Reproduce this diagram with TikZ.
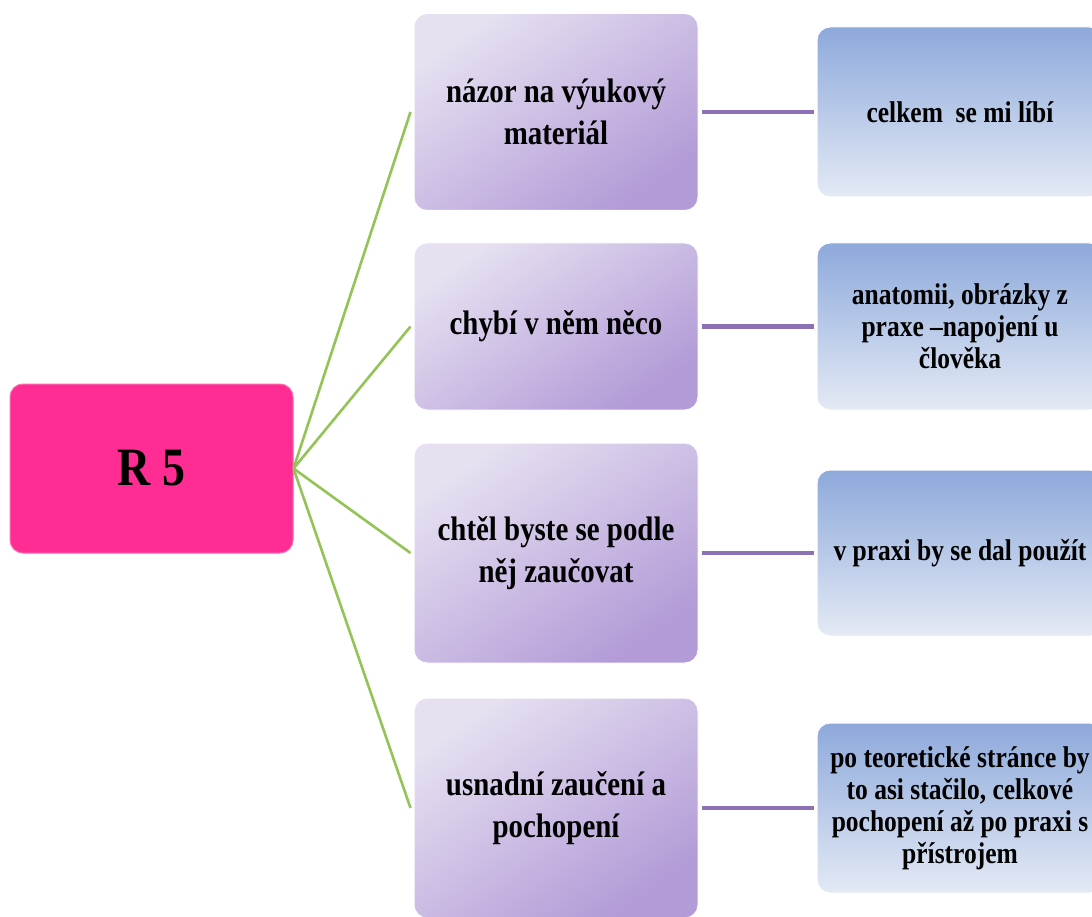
\documentclass[tikz,border=0pt]{standalone}
\usepackage{fontspec}
\setmainfont{Liberation Serif}[FakeStretch=0.85]
\definecolor{pinkbox}{HTML}{FF2D93}
\definecolor{purpleA}{HTML}{E6E0F1}
\definecolor{purpleB}{HTML}{B29BD7}
\definecolor{blueA}{HTML}{8DA9DB}
\definecolor{blueB}{HTML}{E4EAF5}
\definecolor{greenline}{HTML}{94C357}
\definecolor{violetline}{HTML}{8C72B5}
\begin{document}
\begin{tikzpicture}[x=1pt,y=-1pt,
  box/.style={rounded corners=13pt, draw=white, line width=1pt, align=center, inner sep=0pt, font=\bfseries},
  rootbox/.style={box, fill=pinkbox, draw=pinkbox!70!white, minimum width=283pt, minimum height=169pt, font=\bfseries\fontsize{54}{60}\selectfont},
  qbox/.style={box, top color=purpleA, bottom color=purpleB, shading angle=35, minimum width=284pt, font=\bfseries\fontsize{34}{42}\selectfont},
  abox/.style={box, top color=blueA, bottom color=blueB, minimum width=286pt, font=\bfseries\fontsize{30}{32}\selectfont},
  spoke/.style={draw=greenline, line width=2.6pt},
  link/.style={draw=violetline, line width=4.5pt, shorten <=3pt, shorten >=3pt}]
\useasboundingbox (0,0) rectangle (1092,917);
\clip (0,0) rectangle (1092,917);
\fill[white] (0,0) rectangle (1092,917);

\node[rootbox] (r5) at (151.5,468.5) {R 5};

\node[qbox, minimum height=197pt] (q1) at (556,112) {názor na výukový\\materiál};
\node[qbox, minimum height=167pt] (q2) at (556,326.5) {chybí v něm něco};
\node[qbox, minimum height=220pt] (q3) at (556,553) {chtěl byste se podle\\něj zaučovat};
\node[qbox, minimum height=220pt] (q4) at (556,808) {usnadní zaučení a\\pochopení};

\node[abox, minimum height=170pt] (a1) at (960,112) {celkem\ \ se mi líbí};
\node[abox, minimum height=167pt] (a2) at (960,326.5) {anatomii, obrázky z\\praxe –napojení u\\člověka};
\node[abox, minimum height=166pt] (a3) at (960,553) {v praxi by se dal použít};
\node[abox, minimum height=170pt] (a4) at (960,808) {po teoretické stránce by\\to asi stačilo, celkové\\pochopení až po praxi s\\přístrojem};

\foreach \q in {q1,q2,q3,q4} {
  \draw[spoke] (r5.east) -- ([xshift=-3pt]\q.west);
}
\foreach \q/\a in {q1/a1,q2/a2,q3/a3,q4/a4} {
  \draw[link] (\q.east) -- (\a.west);
}
\end{tikzpicture}
\end{document}
